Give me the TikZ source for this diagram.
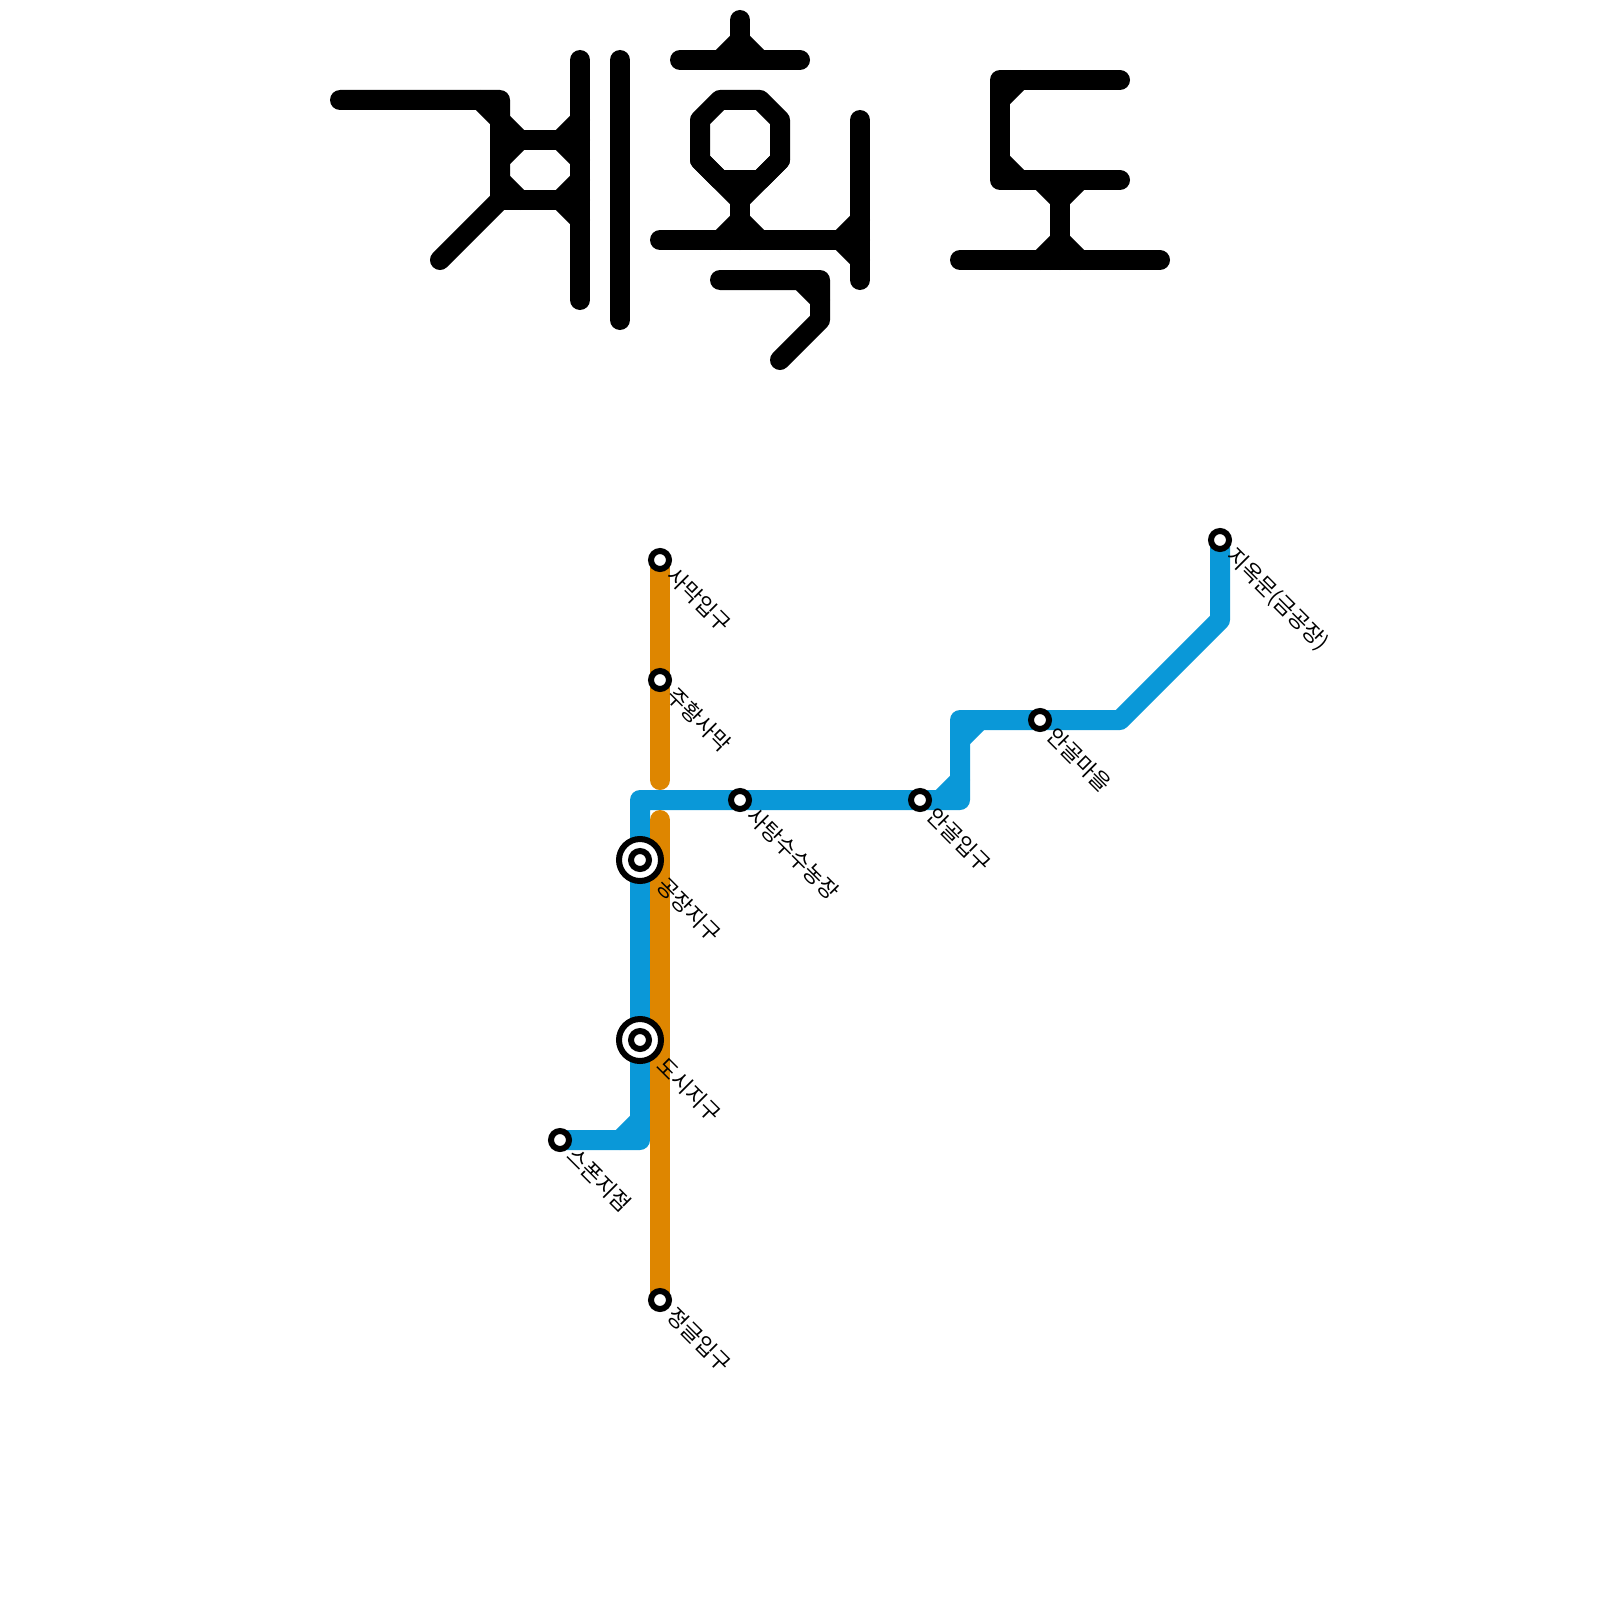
\documentclass[tikz,border=0pt]{standalone}
\usepackage{fontspec}
\newfontfamily\krfont{Noto Sans CJK KR}
\tikzset{
  x=1pt,y=-1pt,
  glyph/.style={draw=black,line width=20pt,line cap=round,line join=round},
  route/.style={line width=20pt,line cap=round,line join=round},
  blueline/.style={route,draw=routeblue},
  orangeline/.style={route,draw=routeorange},
  stop/.style={circle,draw=black,fill=white,line width=6pt,minimum size=18pt,inner sep=0pt,outer sep=0pt},
  hubring/.style={circle,draw=black,fill=white,line width=6pt,minimum size=42pt,inner sep=0pt,outer sep=0pt},
  lbl/.style={rotate=-45,anchor=base west,inner sep=0pt,font=\krfont\fontsize{21.6}{24}\selectfont,text=black},
}
\definecolor{routeblue}{HTML}{0A98D8}
\definecolor{routeorange}{HTML}{DE8600}
\begin{document}
\begin{tikzpicture}
\useasboundingbox (0,0) rectangle (1600,1600);
\fill[white] (0,0) rectangle (1600,1600);
% title
\draw[glyph] (340,100)--(500,100)--(500,200)--(440,260);
\draw[glyph] (480,100)--(500,120)--(520,140)--(500,160);
\draw[glyph] (500,180)--(520,200);
\draw[glyph] (500,140)--(580,140) (500,200)--(580,200);
\draw[glyph] (580,60)--(580,300);
\draw[glyph] (580,120)--(560,140)--(580,160) (580,180)--(560,200)--(580,220);
\draw[glyph] (620,60)--(620,320);
\draw[glyph] (740,20)--(740,60) (680,60)--(800,60);
\draw[glyph] (720,60)--(740,40)--(760,60);
\draw[glyph] (720,100)--(760,100)--(780,120)--(780,160)--(760,180)--(720,180)--(700,160)--(700,120)--cycle;
\draw[glyph] (700,160)--(740,200)--(780,160);
\draw[glyph] (740,200)--(740,240);
\draw[glyph] (720,240)--(740,220)--(760,240);
\draw[glyph] (660,240)--(860,240);
\draw[glyph] (860,120)--(860,280);
\draw[glyph] (840,240)--(860,220) (840,240)--(860,260);
\draw[glyph] (720,280)--(820,280)--(820,320)--(780,360);
\draw[glyph] (800,280)--(820,300);
\draw[glyph] (1120,80)--(1000,80)--(1000,180)--(1120,180);
\draw[glyph] (1000,100)--(1020,80) (1000,160)--(1020,180);
\draw[glyph] (1060,180)--(1060,260) (960,260)--(1160,260);
\draw[glyph] (1040,180)--(1060,200)--(1080,180);
\draw[glyph] (1040,260)--(1060,240)--(1080,260);
% route waypoints
\coordinate (b1) at (640,1140);
\coordinate (b2) at (640,800);
\coordinate (b3) at (960,800);
\coordinate (b4) at (960,720);
\coordinate (b5) at (1120,720);
\coordinate (b6) at (1220,620);
\coordinate (o1) at (660,780);
\coordinate (o2) at (660,820);
\coordinate (st1) at (620,1140);
\coordinate (st2) at (640,1120);
\coordinate (st3) at (940,800);
\coordinate (st4) at (960,780);
\coordinate (st5) at (960,740);
\coordinate (st6) at (980,720);
% stations (positions)
\coordinate (pSamak) at (660,560);
\coordinate (pJuhwang) at (660,680);
\coordinate (pSatang) at (740,800);
\coordinate (pAngolI) at (920,800);
\coordinate (pAngolM) at (1040,720);
\coordinate (pJiok) at (1220,540);
\coordinate (pSpawn) at (560,1140);
\coordinate (pJungle) at (660,1300);
\coordinate (pGongjang) at (640,860);
\coordinate (pDosi) at (640,1040);
% lines
\draw[orangeline] (pSamak)--(pJuhwang)--(o1);
\draw[blueline] (pSpawn)--(b1)--(pDosi)--(pGongjang)--(b2)--(pSatang)--(pAngolI)--(b3)--(b4)--(pAngolM)--(b5)--(b6)--(pJiok);
\draw[blueline] (st1)--(st2) (st3)--(st4) (st5)--(st6);
\draw[orangeline] (o2)--(pJungle);
% stations
\node[hubring] (hub1) at (pGongjang) {};
\node[stop] (hub1c) at (pGongjang) {};
\node[hubring] (hub2) at (pDosi) {};
\node[stop] (hub2c) at (pDosi) {};
\node[stop] (n1) at (pSamak) {};
\node[stop] (n2) at (pJuhwang) {};
\node[stop] (n3) at (pSatang) {};
\node[stop] (n4) at (pAngolI) {};
\node[stop] (n5) at (pAngolM) {};
\node[stop] (n6) at (pJiok) {};
\node[stop] (n7) at (pSpawn) {};
\node[stop] (n8) at (pJungle) {};
% labels
\node[lbl] (l1) at (665,577) {사막입구};
\node[lbl] (l2) at (665,697) {주황사막};
\node[lbl] (l3) at (745,817) {사탕수수농장};
\node[lbl] (l4) at (925,817) {안골입구};
\node[lbl] (l5) at (1045,737) {안골마을};
\node[lbl] (l6) at (1225,557) {지옥문(금공장)};
\node[lbl] (l7) at (565,1157) {스폰지점};
\node[lbl] (l8) at (665,1317) {정글입구};
\node[lbl] (l9) at (655,887) {공장지구};
\node[lbl] (l10) at (655,1067) {도시지구};
\end{tikzpicture}
\end{document}
